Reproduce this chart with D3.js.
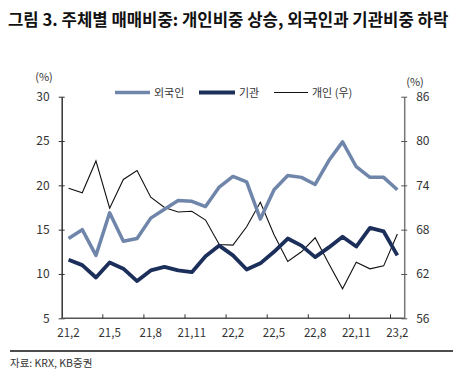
<!DOCTYPE html>
<html>
<head>
<meta charset="utf-8">
<script src="https://cdn.jsdelivr.net/npm/d3@7"></script>
<style>
  body { margin: 0; background: #fff; }
  text { font-family: "Noto Sans CJK KR", "Noto Sans", sans-serif; }
</style>
</head>
<body>
<div id="chart"></div>
<script>
// months on the x axis
var months = ["21.2","21.3","21.4","21.5","21.6","21.7","21.8","21.9","21.10","21.11","21.12","22.1",
              "22.2","22.3","22.4","22.5","22.6","22.7","22.8","22.9","22.10","22.11","22.12","23.1","23.2"];
// 외국인, 기관 on left axis (%), 개인 on right axis (%)
var foreignShare = [14.0, 15.0, 12.1, 16.9, 13.7, 14.0, 16.3, 17.3, 18.3, 18.2, 17.6, 19.8,
                    21.0, 20.4, 16.2, 19.5, 21.1, 20.9, 20.1, 22.8, 24.9, 22.1, 20.9, 20.9, 19.5];
var instShare = [11.6, 11.0, 9.6, 11.3, 10.6, 9.2, 10.4, 10.8, 10.4, 10.2, 12.0, 13.2,
                 12.1, 10.5, 11.2, 12.5, 14.0, 13.2, 11.9, 13.0, 14.2, 13.1, 15.2, 14.8, 12.1];
var retailShare = [73.6, 73.0, 77.3, 70.9, 74.8, 76.0, 72.4, 71.0, 70.4, 70.5, 69.3, 66.0,
                   65.9, 68.4, 71.7, 67.3, 63.7, 65.0, 66.9, 63.4, 60.0, 63.6, 62.7, 63.1, 67.4];
var leftTicks = [5, 10, 15, 20, 25, 30];
var rightTicks = [56, 62, 68, 74, 80, 86];
var tickLabelEvery = 3;

var width = 468, height = 378;
var plot = {left: 61.7, right: 404.2, top: 96.7, bottom: 318.3};

var svg = d3.select("#chart").append("svg")
    .attr("width", width)
    .attr("height", height);

// title
svg.append("text")
    .attr("x", 8)
    .attr("y", 26)
    .attr("font-size", "16.7px")
    .attr("font-weight", "bold")
    .attr("fill", "#111")
    .text("그림 3. 주체별 매매비중: 개인비중 상승, 외국인과 기관비중 하락");

var x = d3.scaleBand().domain(months).range([plot.left, plot.right]).padding(0);
var yL = d3.scaleLinear().domain([5, 30]).range([plot.bottom, plot.top]);
var yR = d3.scaleLinear().domain([56, 86]).range([plot.bottom, plot.top]);

function cx(i) { return x(months[i]) + x.bandwidth() / 2; }

// left axis
var leftAxis = svg.append("g")
    .attr("transform", "translate(" + plot.left + ",0)")
    .call(d3.axisLeft(yL).tickValues(leftTicks).tickSizeInner(3).tickSizeOuter(0).tickPadding(8));
leftAxis.selectAll("line").attr("x2", 3).attr("x1", -3).attr("stroke", "#333");
leftAxis.select(".domain").attr("stroke", "#333").attr("stroke-width", 1.5);
leftAxis.selectAll("text").attr("font-size", "12px").attr("fill", "#333")
    .attr("font-family", "'Open Sans', 'Noto Sans', sans-serif").attr("x", -12);

// right axis
var rightAxis = svg.append("g")
    .attr("transform", "translate(" + plot.right + ",0)")
    .call(d3.axisRight(yR).tickValues(rightTicks).tickSizeInner(3).tickSizeOuter(0).tickPadding(8));
rightAxis.selectAll("line").attr("x1", -3).attr("x2", 3).attr("stroke", "#555");
rightAxis.select(".domain").attr("stroke", "#777").attr("stroke-width", 1.5);
rightAxis.selectAll("text").attr("font-size", "12px").attr("fill", "#333")
    .attr("font-family", "'Open Sans', 'Noto Sans', sans-serif").attr("x", 12);

// bottom axis: ticks between categories, labels on category centres
var bottom = svg.append("g");
bottom.append("line")
    .attr("x1", plot.left).attr("x2", plot.right)
    .attr("y1", plot.bottom).attr("y2", plot.bottom)
    .attr("stroke", "#555").attr("stroke-width", 1.5);
bottom.selectAll("line.tick")
    .data(months.filter(function(d, i) { return i > 0 && i % tickLabelEvery === 0; }))
    .enter().append("line")
    .attr("class", "tick")
    .attr("x1", function(d) { return x(d); })
    .attr("x2", function(d) { return x(d); })
    .attr("y1", plot.bottom).attr("y2", plot.bottom - 4)
    .attr("stroke", "#333");
bottom.selectAll("text")
    .data(months.filter(function(d, i) { return i % tickLabelEvery === 0; }))
    .enter().append("text")
    .attr("x", function(d) { return x(d) + x.bandwidth() / 2; })
    .attr("y", 337)
    .attr("text-anchor", "middle")
    .attr("font-size", "11.5px")
    .attr("fill", "#333")
    .attr("font-family", "'Open Sans', 'Noto Sans', sans-serif")
    .text(function(d) { return d.replace(".", ","); });

// unit labels
svg.append("text").attr("x", 44).attr("y", 81).attr("text-anchor", "middle")
    .attr("font-size", "11px").attr("fill", "#333").text("(%)");
svg.append("text").attr("x", 415).attr("y", 86).attr("text-anchor", "middle")
    .attr("font-size", "11px").attr("fill", "#333").text("(%)");

// lines
var lineL = d3.line().x(function(d, i) { return cx(i); }).y(function(d) { return yL(d); });
var lineR = d3.line().x(function(d, i) { return cx(i); }).y(function(d) { return yR(d); });

svg.append("path").datum(retailShare)
    .attr("d", lineR).attr("fill", "none")
    .attr("stroke", "#111").attr("stroke-width", 1.1);
svg.append("path").datum(foreignShare)
    .attr("d", lineL).attr("fill", "none")
    .attr("stroke", "#6f86aa").attr("stroke-width", 3.5).attr("stroke-linejoin", "round");
svg.append("path").datum(instShare)
    .attr("d", lineL).attr("fill", "none")
    .attr("stroke", "#1b2f5a").attr("stroke-width", 3.8).attr("stroke-linejoin", "round");

// legend
var legendItems = [
    {name: "외국인", color: "#6f86aa", w: 3.5, x1: 115, x2: 150},
    {name: "기관", color: "#1b2f5a", w: 3.8, x1: 199, x2: 235},
    {name: "개인 (우)", color: "#111", w: 1.1, x1: 274, x2: 308}
];
var legend = svg.append("g");
legend.selectAll("line").data(legendItems).enter().append("line")
    .attr("x1", function(d) { return d.x1; })
    .attr("x2", function(d) { return d.x2; })
    .attr("y1", 92.5).attr("y2", 92.5)
    .attr("stroke", function(d) { return d.color; })
    .attr("stroke-width", function(d) { return d.w; });
legend.selectAll("text").data(legendItems).enter().append("text")
    .attr("x", function(d) { return d.x2 + 4; })
    .attr("y", 96.5)
    .attr("font-size", "11px")
    .attr("fill", "#333")
    .text(function(d) { return d.name; });

// footer
svg.append("line")
    .attr("x1", 10).attr("x2", 453)
    .attr("y1", 351).attr("y2", 351)
    .attr("stroke", "#111").attr("stroke-width", 1.5);
svg.append("text")
    .attr("x", 10).attr("y", 367)
    .attr("font-size", "10.5px")
    .attr("fill", "#333")
    .text("자료: KRX, KB증권");
</script>
</body>
</html>
